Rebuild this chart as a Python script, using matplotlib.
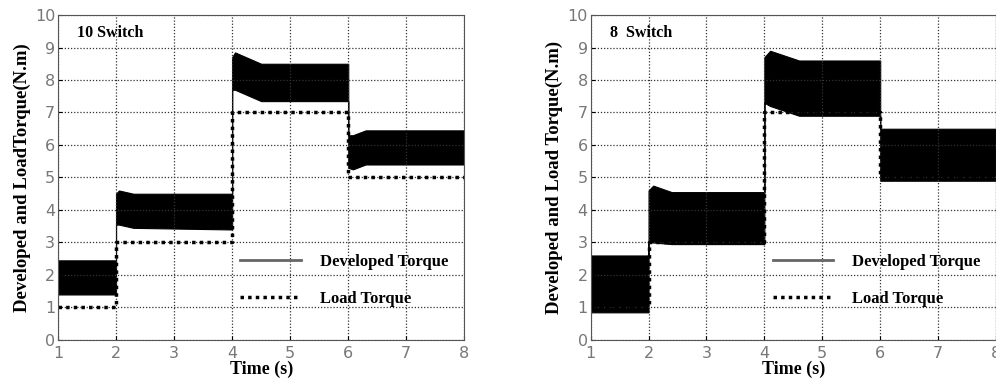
import numpy as np
import matplotlib.pyplot as plt
from matplotlib.lines import Line2D

# envelope of the developed torque band
t10 = [1, 2, 2, 2.05, 2.3, 4, 4, 4.05, 4.5, 6, 6, 6.08, 6.3, 8]
up10 = [2.45, 2.45, 4.5, 4.6, 4.5, 4.5, 8.7, 8.85, 8.5, 8.5, 6.3, 6.3, 6.45, 6.45]
lo10 = [1.4, 1.4, 3.55, 3.55, 3.45, 3.4, 7.7, 7.7, 7.35, 7.35, 5.3, 5.25, 5.4, 5.4]

t8 = [1, 2, 2, 2.08, 2.4, 4, 4, 4.1, 4.6, 6, 6, 8]
up8 = [2.6, 2.6, 4.6, 4.75, 4.55, 4.55, 8.7, 8.9, 8.6, 8.6, 6.5, 6.5]
lo8 = [0.85, 0.85, 3.0, 3.0, 2.95, 2.95, 7.3, 7.2, 6.9, 6.9, 4.9, 4.9]

load_t = [1, 2, 4, 6, 8]
load_v = [1, 3, 7, 5]

titles = ["10 Switch", "8  Switch"]
ylabels = ["Developed and LoadTorque(N.m)", "Developed and Load Torque(N.m)"]

serif = "Liberation Serif"

fig = plt.figure(figsize=(9.96, 3.85), dpi=100)
ax1 = fig.add_axes([0.0582, 0.117, 0.408, 0.844])
ax2 = fig.add_axes([0.593, 0.117, 0.407, 0.844])

for ax, t, up, lo, title, ylab in [(ax1, t10, up10, lo10, titles[0], ylabels[0]),
                                   (ax2, t8, up8, lo8, titles[1], ylabels[1])]:
    ax.fill_between(t, lo, up, color="black", linewidth=0.8, edgecolor="black")
    ax.step(load_t, load_v + [load_v[-1]], where="post", color="black",
            linestyle=(0, (1, 1.2)), linewidth=2.5)
    ax.set_xlim(1, 8)
    ax.set_ylim(0, 10)
    ax.set_xticks(range(1, 9))
    ax.set_yticks(range(0, 11))
    ax.grid(True, color="#333333", linestyle=(0, (1, 1.5)), linewidth=0.9)
    ax.tick_params(direction="in", labelsize=11.5, labelcolor="#777777", length=3, pad=2)
    ax.tick_params(axis="x", pad=4)
    for s in ax.spines.values():
        s.set_color("#555555")
    ax.set_xlabel("Time (s)", fontfamily=serif, fontweight="bold", fontsize=13, labelpad=0)
    ax.set_ylabel(ylab, fontfamily=serif, fontweight="bold", fontsize=13.5, labelpad=3)
    ax.text(1.33, 9.45, title, fontfamily=serif, fontweight="bold", fontsize=11.5,
            va="center", ha="left")

    handles = [Line2D([], [], color="#666666", linewidth=2),
               Line2D([], [], color="black", linestyle=(0, (1, 1.2)), linewidth=2.5)]
    ax.legend(handles, ["Developed Torque", "Load Torque"], loc="upper left",
              bbox_to_anchor=(0.412, 0.312), frameon=False,
              handlelength=3.65, handletextpad=1.1, labelspacing=1.3,
              prop={"family": serif, "weight": "bold", "size": 12})

fig.savefig("out.png", dpi=100)
